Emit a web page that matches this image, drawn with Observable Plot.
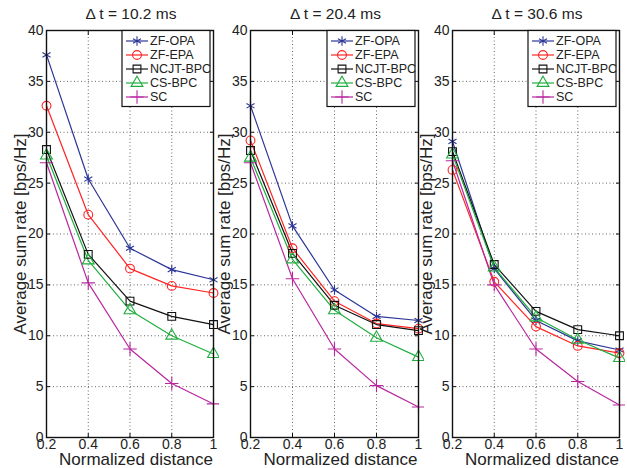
<!DOCTYPE html>
<html><head><meta charset="utf-8">
<script src="https://cdn.jsdelivr.net/npm/d3@7"></script>
<script src="https://cdn.jsdelivr.net/npm/@observablehq/plot@0.6"></script>
<style>
body{margin:0;background:#fff;}
#wrap{position:relative;width:627px;height:468px;overflow:hidden;}
#wrap svg{position:absolute;top:0;max-width:none;}
</style></head><body><div id="wrap"></div>
<script>
const distances=[0.2,0.4,0.6,0.8,1];
const panelTitles=["Δ t = 10.2 ms","Δ t = 20.4 ms","Δ t = 30.6 ms"];
const schemes=["ZF-OPA","ZF-EPA","NCJT-BPC","CS-BPC","SC"];
const colors=["#2b3595","#ff2424","#111111","#1fae3e","#b8279f"];
const symbols=["asterisk","circle","square","triangle","plus"];
const yTicks=[0,5,10,15,20,25,30,35,40];
const xTicks=[0.2,0.4,0.6,0.8,1];
const xLabel="Normalized distance";
const yLabel="Average sum rate [bps/Hz]";
// one row per panel (Δt = 10.2, 20.4, 30.6 ms)
const zfOpa=[[37.6,25.4,18.6,16.5,15.5],[32.6,20.8,14.5,11.9,11.5],[29.1,16.6,11.5,9.5,8.6]];
const zfEpa=[[32.6,21.9,16.6,14.9,14.2],[29.2,18.6,13.4,11.2,10.7],[26.3,15.3,10.9,9.0,8.3]];
const ncjtBpc=[[28.3,18.0,13.4,11.9,11.1],[28.2,18.1,13.0,11.1,10.5],[28.1,17.0,12.4,10.6,10.0]];
const csBpc=[[27.7,17.4,12.5,10.0,8.2],[27.5,17.5,12.5,9.8,7.9],[27.8,16.7,11.8,9.6,7.8]];
const sc=[[27.0,15.2,8.7,5.3,3.3],[27.0,15.6,8.7,5.1,3.0],[27.2,15.0,8.7,5.5,3.2]];

const seriesVals=[zfOpa,zfEpa,ncjtBpc,csBpc,sc];
const FONT="Arial, 'Liberation Sans', sans-serif";
const layout=[{left:0,w:167},{left:204,w:168},{left:406,w:167}];
const wrap=document.getElementById("wrap");

function panel(p){
  const rows=[];
  schemes.forEach((s,i)=>distances.forEach((d,j)=>rows.push({scheme:s,d,v:seriesVals[i][p][j]})));
  const mL=46,mR=6,W=mL+layout[p].w+mR;
  const grid={stroke:"#555",strokeOpacity:1,strokeDasharray:"1,2.5",strokeWidth:0.9};
  const svg=Plot.plot({
    width:W,height:468,marginLeft:mL,marginRight:mR,marginTop:30,marginBottom:31,
    style:{fontFamily:FONT,fontSize:"14px",background:"transparent",color:"#222"},
    x:{domain:[0.2,1]},
    y:{domain:[0,40]},
    color:{domain:schemes,range:colors},
    symbol:{domain:schemes,range:symbols},
    marks:[
      Plot.gridX(xTicks,grid),
      Plot.gridY(yTicks,grid),
      Plot.axisX(xTicks,{tickSize:0,tickPadding:2,label:null,tickFormat:d=>String(d),fontSize:14}),
      Plot.axisX(xTicks,{tickSize:-4,fill:"none",stroke:"#111"}),
      Plot.axisX(xTicks,{anchor:"top",tickSize:-4,fill:"none",stroke:"#111"}),
      Plot.axisY(yTicks,{tickSize:0,tickPadding:3,label:null,tickFormat:d=>String(d),fontSize:14}),
      Plot.axisY(yTicks,{tickSize:-4,fill:"none",stroke:"#111"}),
      Plot.axisY(yTicks,{anchor:"right",tickSize:-4,fill:"none",stroke:"#111"}),
      Plot.line(rows,{x:"d",y:"v",stroke:"scheme",z:"scheme",strokeWidth:1.2}),
      Plot.dot(rows,{x:"d",y:"v",stroke:"scheme",symbol:"scheme",r:4.4,strokeWidth:1.1,fill:"none"}),
      Plot.frame({stroke:"#111",strokeWidth:1.4}),
      Plot.text([panelTitles[p]],{frameAnchor:"top",lineAnchor:"middle",textAnchor:"middle",dy:-16,dx:1,fontSize:15.5,fill:"#222"}),
      Plot.text([xLabel],{frameAnchor:"bottom",lineAnchor:"middle",textAnchor:"middle",dy:22,dx:6,fontSize:17,fill:"#222"}),
      Plot.text([yLabel],{frameAnchor:"left",lineAnchor:"middle",textAnchor:"middle",rotate:-90,dx:-26,fontSize:17,fill:"#222"})
    ]
  });
  svg.style.left=layout[p].left+"px";
  // legend
  const right=W-mR, top=30;
  const bw=88,bh=76,bx=right-bw-3,by=top+0.5;
  const g=d3.select(svg).append("g").attr("font-family",FONT).attr("font-size",12.5).attr("text-anchor","start");
  g.append("rect").attr("x",bx).attr("y",by).attr("width",bw).attr("height",bh)
    .attr("fill","#fff").attr("stroke","#111").attr("stroke-width",1.2);
  const symMap={asterisk:d3.symbolAsterisk,circle:d3.symbolCircle,square:d3.symbolSquare,triangle:d3.symbolTriangle,plus:d3.symbolPlus};
  schemes.forEach((s,i)=>{
    const yy=by+10.5+14*i;
    g.append("line").attr("x1",bx+4).attr("x2",bx+26).attr("y1",yy).attr("y2",yy)
      .attr("stroke",colors[i]).attr("stroke-width",1.2);
    g.append("path").attr("d",d3.symbol(symMap[symbols[i]],Math.PI*4.4*4.4)())
      .attr("transform",`translate(${bx+15},${yy})`).attr("fill","none")
      .attr("stroke",colors[i]).attr("stroke-width",1.1);
    g.append("text").attr("x",bx+28).attr("y",yy).attr("dy","0.35em").attr("text-anchor","start").attr("fill","#222").text(s);
  });
  wrap.appendChild(svg);
}
[0,1,2].forEach(panel);
</script></body></html>
